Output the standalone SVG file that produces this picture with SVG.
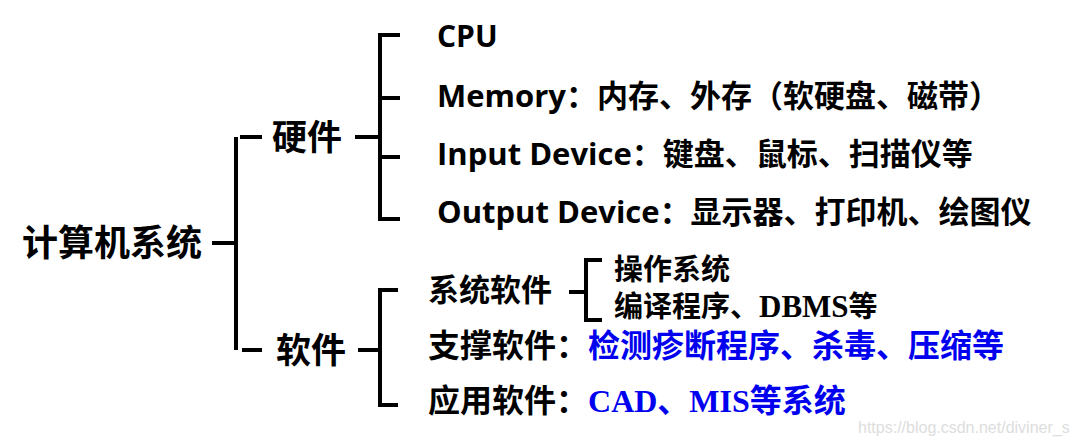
<svg xmlns="http://www.w3.org/2000/svg" width="1077" height="445" viewBox="0 0 1077 445">
<style>
text{font-family:"Noto Sans CJK SC","Noto Sans",sans-serif;font-weight:bold;fill:#000}
.e{font-family:"Open Sans","Noto Sans CJK SC",sans-serif;font-weight:bold}
.b{fill:#0000ee}
.s{font-family:"Liberation Serif","Noto Sans CJK SC",serif}
line,polyline{stroke:#000;stroke-width:4;fill:none}
</style>
<rect width="1077" height="445" fill="#fff"/>
<g id="connectors">
<line x1="212" y1="243" x2="236" y2="243"/>
<line x1="236" y1="137" x2="236" y2="350"/>
<line x1="240" y1="137" x2="262" y2="137"/>
<line x1="242" y1="350" x2="262" y2="350"/>
<line x1="355" y1="137" x2="380" y2="137"/>
<polyline points="400,35 380,35 380,219 400,219"/>
<line x1="380" y1="98" x2="400" y2="98"/>
<line x1="380" y1="157" x2="400" y2="157"/>
<line x1="358" y1="350" x2="380" y2="350"/>
<polyline points="398,290 380,290 380,405 398,405"/>
<line x1="569" y1="292" x2="586" y2="292"/>
<polyline points="602,260 586,260 586,320 602,320"/>
</g>
<g id="root"><text x="22" y="256" font-size="36">计算机系统</text></g>
<g id="hw"><text x="272" y="150" font-size="35">硬件</text></g>
<g id="sw"><text x="276" y="363" font-size="35">软件</text></g>
<g id="cpu"><text x="437" y="47" font-size="30" class="e">CPU</text></g>
<g id="mem"><text x="437" y="107" font-size="31" class="e">Memory<tspan style="font-family:'Noto Sans CJK SC',sans-serif">：内存、外存（软硬盘、磁带）</tspan></text></g>
<g id="in"><text x="437" y="165" font-size="31" class="e">Input Device<tspan style="font-family:'Noto Sans CJK SC',sans-serif">：键盘、鼠标、扫描仪等</tspan></text></g>
<g id="out"><text x="437" y="223" font-size="31" class="e">Output Device<tspan style="font-family:'Noto Sans CJK SC',sans-serif">：显示器、打印机、绘图仪</tspan></text></g>
<g id="sys"><text x="428" y="301" font-size="31">系统软件</text></g>
<g id="os"><text x="614" y="280" font-size="29">操作系统</text></g>
<g id="comp"><text x="614" y="317" font-size="29">编译程序、<tspan class="s" font-size="31">DBMS</tspan>等</text></g>
<g id="sup"><text x="428" y="357" font-size="32">支撑软件：<tspan class="b">检测疹断程序、杀毒、压缩等</tspan></text></g>
<g id="app"><text x="428" y="412" font-size="32">应用软件：<tspan class="b"><tspan class="s">CAD</tspan>、<tspan class="s">MIS</tspan>等系统</tspan></text></g>
<text x="858" y="433" font-size="16" style="font-weight:normal;font-family:'Liberation Sans',sans-serif;fill:#dddddd">https://blog.csdn.net/diviner_s</text>
</svg>
